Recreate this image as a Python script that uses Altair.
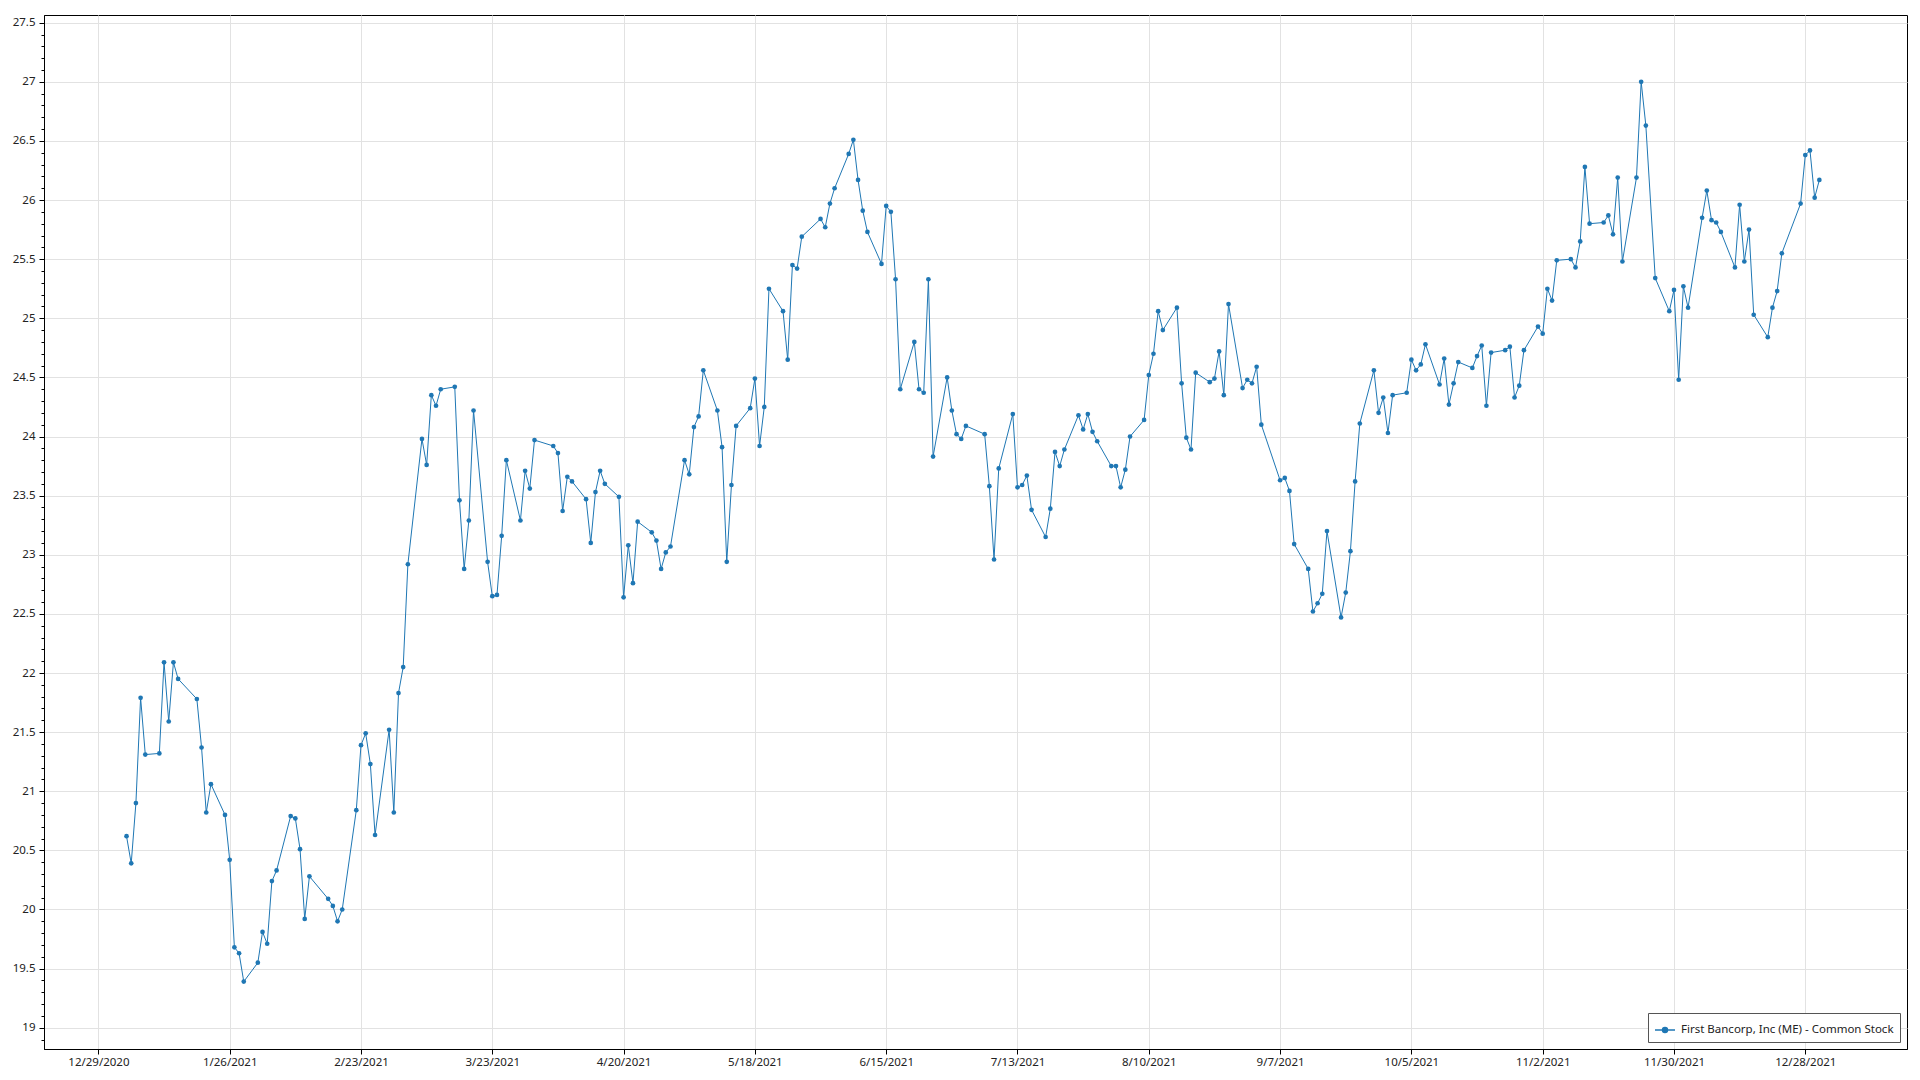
import altair as alt
import pandas as pd

series_name = "First Bancorp, Inc (ME) - Common Stock"

dates = [
    "2021-01-04", "2021-01-05", "2021-01-06", "2021-01-07", "2021-01-08",
    "2021-01-11", "2021-01-12", "2021-01-13", "2021-01-14", "2021-01-15",
    "2021-01-19", "2021-01-20", "2021-01-21", "2021-01-22",
    "2021-01-25", "2021-01-26", "2021-01-27", "2021-01-28", "2021-01-29",
    "2021-02-01", "2021-02-02", "2021-02-03", "2021-02-04", "2021-02-05",
    "2021-02-08", "2021-02-09", "2021-02-10", "2021-02-11", "2021-02-12",
    "2021-02-16", "2021-02-17", "2021-02-18", "2021-02-19",
    "2021-02-22", "2021-02-23", "2021-02-24", "2021-02-25", "2021-02-26",
    "2021-03-01", "2021-03-02", "2021-03-03", "2021-03-04", "2021-03-05",
    "2021-03-08", "2021-03-09", "2021-03-10", "2021-03-11", "2021-03-12",
    "2021-03-15", "2021-03-16", "2021-03-17", "2021-03-18", "2021-03-19",
    "2021-03-22", "2021-03-23", "2021-03-24", "2021-03-25", "2021-03-26",
    "2021-03-29", "2021-03-30", "2021-03-31", "2021-04-01",
    "2021-04-05", "2021-04-06", "2021-04-07", "2021-04-08", "2021-04-09",
    "2021-04-12", "2021-04-13", "2021-04-14", "2021-04-15", "2021-04-16",
    "2021-04-19", "2021-04-20", "2021-04-21", "2021-04-22", "2021-04-23",
    "2021-04-26", "2021-04-27", "2021-04-28", "2021-04-29", "2021-04-30",
    "2021-05-03", "2021-05-04", "2021-05-05", "2021-05-06", "2021-05-07",
    "2021-05-10", "2021-05-11", "2021-05-12", "2021-05-13", "2021-05-14",
    "2021-05-17", "2021-05-18", "2021-05-19", "2021-05-20", "2021-05-21",
    "2021-05-24", "2021-05-25", "2021-05-26", "2021-05-27", "2021-05-28",
    "2021-06-01", "2021-06-02", "2021-06-03", "2021-06-04",
    "2021-06-07", "2021-06-08", "2021-06-09", "2021-06-10", "2021-06-11",
    "2021-06-14", "2021-06-15", "2021-06-16", "2021-06-17", "2021-06-18",
    "2021-06-21", "2021-06-22", "2021-06-23", "2021-06-24", "2021-06-25",
    "2021-06-28", "2021-06-29", "2021-06-30", "2021-07-01", "2021-07-02",
    "2021-07-06", "2021-07-07", "2021-07-08", "2021-07-09",
    "2021-07-12", "2021-07-13", "2021-07-14", "2021-07-15", "2021-07-16",
    "2021-07-19", "2021-07-20", "2021-07-21", "2021-07-22", "2021-07-23",
    "2021-07-26", "2021-07-27", "2021-07-28", "2021-07-29", "2021-07-30",
    "2021-08-02", "2021-08-03", "2021-08-04", "2021-08-05", "2021-08-06",
    "2021-08-09", "2021-08-10", "2021-08-11", "2021-08-12", "2021-08-13",
    "2021-08-16", "2021-08-17", "2021-08-18", "2021-08-19", "2021-08-20",
    "2021-08-23", "2021-08-24", "2021-08-25", "2021-08-26", "2021-08-27",
    "2021-08-30", "2021-08-31", "2021-09-01", "2021-09-02", "2021-09-03",
    "2021-09-07", "2021-09-08", "2021-09-09", "2021-09-10",
    "2021-09-13", "2021-09-14", "2021-09-15", "2021-09-16", "2021-09-17",
    "2021-09-20", "2021-09-21", "2021-09-22", "2021-09-23", "2021-09-24",
    "2021-09-27", "2021-09-28", "2021-09-29", "2021-09-30", "2021-10-01",
    "2021-10-04", "2021-10-05", "2021-10-06", "2021-10-07", "2021-10-08",
    "2021-10-11", "2021-10-12", "2021-10-13", "2021-10-14", "2021-10-15",
    "2021-10-18", "2021-10-19", "2021-10-20", "2021-10-21", "2021-10-22",
    "2021-10-25", "2021-10-26", "2021-10-27", "2021-10-28", "2021-10-29",
    "2021-11-01", "2021-11-02", "2021-11-03", "2021-11-04", "2021-11-05",
    "2021-11-08", "2021-11-09", "2021-11-10", "2021-11-11", "2021-11-12",
    "2021-11-15", "2021-11-16", "2021-11-17", "2021-11-18", "2021-11-19",
    "2021-11-22", "2021-11-23", "2021-11-24", "2021-11-26",
    "2021-11-29", "2021-11-30", "2021-12-01", "2021-12-02", "2021-12-03",
    "2021-12-06", "2021-12-07", "2021-12-08", "2021-12-09", "2021-12-10",
    "2021-12-13", "2021-12-14", "2021-12-15", "2021-12-16", "2021-12-17",
    "2021-12-20", "2021-12-21", "2021-12-22", "2021-12-23",
    "2021-12-27", "2021-12-28", "2021-12-29", "2021-12-30", "2021-12-31",
]

prices = [
    20.62, 20.39, 20.90, 21.79, 21.31,
    21.32, 22.09, 21.59, 22.09, 21.95,
    21.78, 21.37, 20.82, 21.06,
    20.80, 20.42, 19.68, 19.63, 19.39,
    19.55, 19.81, 19.71, 20.24, 20.33,
    20.79, 20.77, 20.51, 19.92, 20.28,
    20.09, 20.03, 19.90, 20.00,
    20.84, 21.39, 21.49, 21.23, 20.63,
    21.52, 20.82, 21.83, 22.05, 22.92,
    23.98, 23.76, 24.35, 24.26, 24.40,
    24.42, 23.46, 22.88, 23.29, 24.22,
    22.94, 22.65, 22.66, 23.16, 23.80,
    23.29, 23.71, 23.56, 23.97,
    23.92, 23.86, 23.37, 23.66, 23.62,
    23.47, 23.10, 23.53, 23.71, 23.60,
    23.49, 22.64, 23.08, 22.76, 23.28,
    23.19, 23.12, 22.88, 23.02, 23.07,
    23.80, 23.68, 24.08, 24.17, 24.56,
    24.22, 23.91, 22.94, 23.59, 24.09,
    24.24, 24.49, 23.92, 24.25, 25.25,
    25.06, 24.65, 25.45, 25.42, 25.69,
    25.84, 25.77, 25.97, 26.10,
    26.39, 26.51, 26.17, 25.91, 25.73,
    25.46, 25.95, 25.90, 25.33, 24.40,
    24.80, 24.40, 24.37, 25.33, 23.83,
    24.50, 24.22, 24.02, 23.98, 24.09,
    24.02, 23.58, 22.96, 23.73,
    24.19, 23.57, 23.59, 23.67, 23.38,
    23.15, 23.39, 23.87, 23.75, 23.89,
    24.18, 24.06, 24.19, 24.04, 23.96,
    23.75, 23.75, 23.57, 23.72, 24.00,
    24.14, 24.52, 24.70, 25.06, 24.90,
    25.09, 24.45, 23.99, 23.89, 24.54,
    24.46, 24.49, 24.72, 24.35, 25.12,
    24.41, 24.48, 24.45, 24.59, 24.10,
    23.63, 23.65, 23.54, 23.09,
    22.88, 22.52, 22.59, 22.67, 23.20,
    22.47, 22.68, 23.03, 23.62, 24.11,
    24.56, 24.20, 24.33, 24.03, 24.35,
    24.37, 24.65, 24.56, 24.61, 24.78,
    24.44, 24.66, 24.27, 24.45, 24.63,
    24.58, 24.68, 24.77, 24.26, 24.71,
    24.73, 24.76, 24.33, 24.43, 24.73,
    24.93, 24.87, 25.25, 25.15, 25.49,
    25.50, 25.43, 25.65, 26.28, 25.80,
    25.81, 25.87, 25.71, 26.19, 25.48,
    26.19, 27.00, 26.63, 25.34,
    25.06, 25.24, 24.48, 25.27, 25.09,
    25.85, 26.08, 25.83, 25.81, 25.73,
    25.43, 25.96, 25.48, 25.75, 25.03,
    24.84, 25.09, 25.23, 25.55,
    25.97, 26.38, 26.42, 26.02, 26.17,
]

# axis tick labels
x_tick_dates = [
    (2020, 12, 29), (2021, 1, 26), (2021, 2, 23), (2021, 3, 23), (2021, 4, 20),
    (2021, 5, 18), (2021, 6, 15), (2021, 7, 13), (2021, 8, 10), (2021, 9, 7),
    (2021, 10, 5), (2021, 11, 2), (2021, 11, 30), (2021, 12, 28),
]
y_tick_values = [round(18.9 + 0.1 * i, 1) for i in range(87)]

df = pd.DataFrame({"date": dates, "price": prices, "series": series_name})

FONT = "Noto Sans"
TEXT = "#222222"
GRID = "#e2e2e2"
BLUE = "#1f77b4"
major = "abs(datum.value * 2 - round(datum.value * 2)) < 0.001"

x_enc = alt.X(
    "date:T",
    scale=alt.Scale(
        type="utc",
        domain=[
            alt.DateTime(year=2020, month=12, date=17, hours=9, minutes=36, utc=True),
            alt.DateTime(year=2022, month=1, date=18, hours=16, minutes=34, utc=True),
        ],
    ),
    axis=alt.Axis(
        values=[alt.DateTime(year=y, month=m, date=d, utc=True) for (y, m, d) in x_tick_dates],
        labelExpr="utcFormat(datum.value, '%-m/%-d/%Y')",
        title=None,
        grid=True,
        gridColor=GRID,
        gridWidth=1,
        tickSize=5,
        tickColor="black",
        labelPadding=2,
        labelFlush=False,
        labelOverlap=False,
        domainColor="black",
        minExtent=18,
        maxExtent=18,
    ),
)

y_enc = alt.Y(
    "price:Q",
    scale=alt.Scale(domain=[18.82, 27.565], zero=False, nice=False),
    axis=alt.Axis(
        values=y_tick_values,
        format="~g",
        labelExpr=f"({major}) ? datum.label : ''",
        title=None,
        grid=True,
        gridColor=GRID,
        gridWidth=1,
        gridOpacity={"condition": {"test": major, "value": 1}, "value": 0},
        tickSize={"condition": {"test": major, "value": 5}, "value": 3},
        tickColor="black",
        labelPadding=4,
        labelOverlap=False,
        labelFlush=False,
        domainColor="black",
        minExtent=30,
        maxExtent=30,
    ),
)

legend_symbol = "M-1,0L1,0M0.25,0A0.25,0.25,0,1,1,-0.25,0A0.25,0.25,0,1,1,0.25,0Z"

color_enc = alt.Color(
    "series:N",
    scale=alt.Scale(range=[BLUE]),
    legend=alt.Legend(
        title=None,
        orient="bottom-right",
        offset=7,
        padding=6,
        strokeColor="#555555",
        fillColor="white",
        cornerRadius=0,
        symbolType=legend_symbol,
        symbolSize=400,
        symbolStrokeWidth=1.5,
        symbolStrokeColor=BLUE,
        symbolFillColor=BLUE,
        labelFont=FONT,
        labelFontSize=11.5,
        labelColor=TEXT,
        labelLimit=500,
        labelOffset=5,
    ),
)

base = alt.Chart(df).encode(x=x_enc, y=y_enc, color=color_enc)
line = base.mark_line(strokeWidth=1)
points = base.mark_point(filled=True, size=22, opacity=1)

chart = (
    alt.layer(line, points)
    .properties(
        width=1863,
        height=1034,
        padding={"left": 4, "top": 7, "right": 5, "bottom": 0},
        background="white",
    )
    .configure_view(stroke="black", strokeWidth=1)
    .configure_axis(
        labelFont=FONT,
        labelFontSize=11.5,
        labelColor=TEXT,
        domainWidth=1,
        tickWidth=1,
    )
)

chart.save("out.html", embed_options={"renderer": "svg", "actions": False})
